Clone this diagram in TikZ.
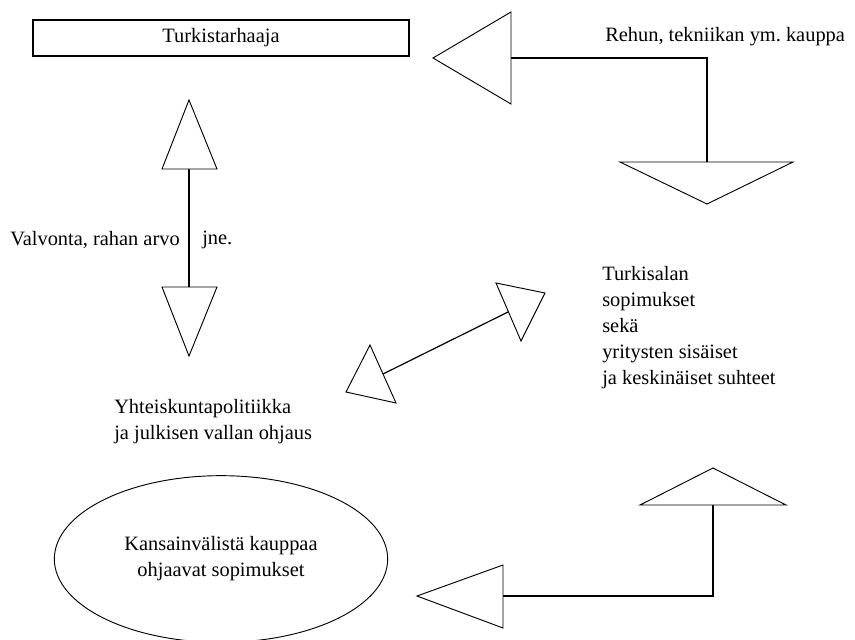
\documentclass[tikz,border=0pt]{standalone}
\usepackage{fontspec}
\setmainfont{Liberation Serif}
\usetikzlibrary{shapes.geometric}
\begin{document}
\begin{tikzpicture}[x=0.75pt,y=-0.75pt,
  lbl/.style={font=\fontsize{15.3}{19.5}\selectfont\frenchspacing, inner sep=0pt},
  head/.style={draw, line width=0.7pt, fill=white, line join=miter},
  link/.style={draw, line width=0.9pt}]
\useasboundingbox (0,0) rectangle (855,639);
% boxes
\node[draw, line width=0.9pt, minimum width=282pt, minimum height=27pt, lbl] (farmer) at (221,38) {Turkistarhaaja};
\node[draw, ellipse, line width=0.7pt, minimum width=250pt, minimum height=125pt, lbl, align=center] (intl) at (221,559) {Kansainvälistä kauppaa\\ohjaavat sopimukset};
% labels
\node[lbl, anchor=west] (rehun) at (605,37) {Rehun, tekniikan ym. kauppa};
\node[lbl, anchor=east] (valv) at (180,240) {Valvonta, rahan arvo};
\node[lbl, anchor=west] (jne) at (202,240) {jne.};
\node[lbl, anchor=north west, align=left] (turk) at (602,266) {Turkisalan\\sopimukset\\sekä\\yritysten sisäiset\\ja keskinäiset suhteet};
\node[lbl, anchor=north west, align=left] (yht) at (114,399) {Yhteiskuntapolitiikka\\ja julkisen vallan ohjaus};
% connector end points
\coordinate (a1) at (511,58);
\coordinate (a2) at (707,162);
\coordinate (b1) at (189,169);
\coordinate (b2) at (189,287);
\coordinate (c1) at (383,374);
\coordinate (c2) at (508,312);
\coordinate (d1) at (713,505);
\coordinate (d2) at (503,596);
% connectors
\draw[link] (a1) -| (a2);
\draw[link] (b1) -- (b2);
\draw[link] (c1) -- (c2);
\draw[link] (d1) |- (d2);
% arrow heads
\draw[head] (511,12) -- (433,58) -- (511,104) -- cycle;
\draw[head] (620,162) -- (707,204) -- (793,162) -- cycle;
\draw[head] (162,169) -- (189,100) -- (217,169) -- cycle;
\draw[head] (162,287) -- (189,356) -- (217,287) -- cycle;
\draw[head] (370,345) -- (346,392) -- (396,403) -- cycle;
\draw[head] (496,283) -- (545,293) -- (521,341) -- cycle;
\draw[head] (640,505) -- (713,468) -- (786,505) -- cycle;
\draw[head] (503,565) -- (417,596) -- (503,628) -- cycle;
\end{tikzpicture}
\end{document}
